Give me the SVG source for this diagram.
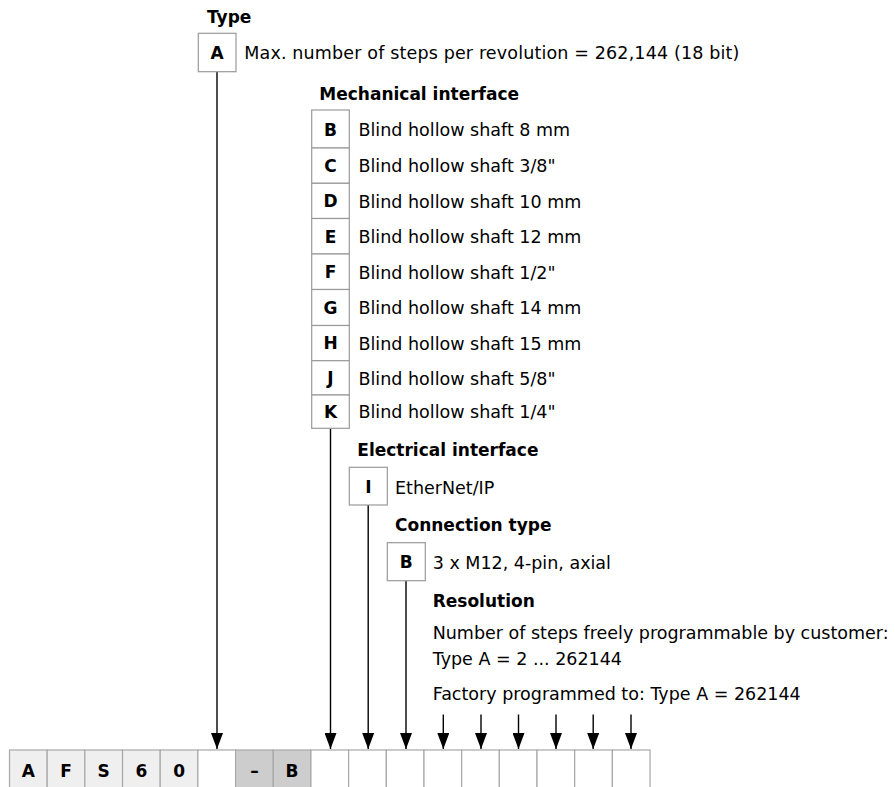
<svg xmlns="http://www.w3.org/2000/svg" width="895" height="787" viewBox="0 0 895 787">
<defs>
<marker id="ah" markerUnits="userSpaceOnUse" markerWidth="16" markerHeight="12" refX="16" refY="6" orient="auto">
<path d="M0,0 L16,6 L0,12 z" fill="#000"/>
</marker>
<style>
.t{font-family:"DejaVu Sans",sans-serif;font-size:17px;font-weight:bold;fill:#000}
.b{font-family:"DejaVu Sans",sans-serif;font-size:17.5px;fill:#000}
.k{font-family:"DejaVu Sans",sans-serif;font-size:17px;font-weight:bold;fill:#000;text-anchor:middle}
.box{fill:#fff;stroke:#9a9a9a;stroke-width:1.2}
.c0{fill:#efefef;stroke:#a8a8a8;stroke-width:1.2}
.c1{fill:#fff;stroke:#a8a8a8;stroke-width:1.2}
.c2{fill:#cdcdcd;stroke:#a8a8a8;stroke-width:1.2}
.ln{stroke:#000;stroke-width:1.4;fill:none}
</style>
</defs>
<rect width="895" height="787" fill="#fff"/>

<g id="connectors">
<line class="ln" x1="217" y1="71.7" x2="217" y2="749" marker-end="url(#ah)"/>
<line class="ln" x1="330.5" y1="428.3" x2="330.5" y2="749" marker-end="url(#ah)"/>
<line class="ln" x1="368.2" y1="505" x2="368.2" y2="749" marker-end="url(#ah)"/>
<line class="ln" x1="406" y1="580.7" x2="406" y2="749" marker-end="url(#ah)"/>
<line class="ln" x1="443.3" y1="714.5" x2="443.3" y2="749" marker-end="url(#ah)"/>
<line class="ln" x1="481" y1="714.5" x2="481" y2="749" marker-end="url(#ah)"/>
<line class="ln" x1="518.5" y1="714.5" x2="518.5" y2="749" marker-end="url(#ah)"/>
<line class="ln" x1="556" y1="714.5" x2="556" y2="749" marker-end="url(#ah)"/>
<line class="ln" x1="593.2" y1="714.5" x2="593.2" y2="749" marker-end="url(#ah)"/>
<line class="ln" x1="631" y1="714.5" x2="631" y2="749" marker-end="url(#ah)"/>
</g>

<g id="type">
<text class="t" x="207" y="23.3">Type</text>
<rect class="box" x="198.3" y="33.3" width="37.7" height="38.4"/>
<text class="k" x="217.1" y="58.8">A</text>
<text class="b" x="244.3" y="59" textLength="495" lengthAdjust="spacing">Max. number of steps per revolution = 262,144 (18 bit)</text>
</g>

<g id="mechanical">
<text class="t" x="319.3" y="100">Mechanical interface</text>
<rect class="box" x="311.7" y="110" width="37.6" height="38"/>
<text class="k" x="330.5" y="135.5">B</text>
<text class="b" x="358.5" y="136">Blind hollow shaft 8 mm</text>
<rect class="box" x="311.7" y="148" width="37.6" height="35.3"/>
<text class="k" x="330.5" y="171.5">C</text>
<text class="b" x="358.5" y="172">Blind hollow shaft 3/8"</text>
<rect class="box" x="311.7" y="183.3" width="37.6" height="35.2"/>
<text class="k" x="330.5" y="207">D</text>
<text class="b" x="358.5" y="207.5">Blind hollow shaft 10 mm</text>
<rect class="box" x="311.7" y="218.5" width="37.6" height="35.5"/>
<text class="k" x="330.5" y="242.5">E</text>
<text class="b" x="358.5" y="243">Blind hollow shaft 12 mm</text>
<rect class="box" x="311.7" y="254" width="37.6" height="35.5"/>
<text class="k" x="330.5" y="278">F</text>
<text class="b" x="358.5" y="278.5">Blind hollow shaft 1/2"</text>
<rect class="box" x="311.7" y="289.5" width="37.6" height="36"/>
<text class="k" x="330.5" y="313.8">G</text>
<text class="b" x="358.5" y="314.3">Blind hollow shaft 14 mm</text>
<rect class="box" x="311.7" y="325.5" width="37.6" height="35.2"/>
<text class="k" x="330.5" y="349.4">H</text>
<text class="b" x="358.5" y="349.9">Blind hollow shaft 15 mm</text>
<rect class="box" x="311.7" y="360.7" width="37.6" height="34.3"/>
<text class="k" x="330.5" y="384.2">J</text>
<text class="b" x="358.5" y="384.7">Blind hollow shaft 5/8"</text>
<rect class="box" x="311.7" y="395" width="37.6" height="33.3"/>
<text class="k" x="330.5" y="417.8">K</text>
<text class="b" x="358.5" y="418.3">Blind hollow shaft 1/4"</text>
</g>

<g id="electrical">
<text class="t" x="357.3" y="456">Electrical interface</text>
<rect class="box" x="349.3" y="467.3" width="38" height="37.7"/>
<text class="k" x="368.3" y="492.6">I</text>
<text class="b" x="395" y="494">EtherNet/IP</text>
</g>

<g id="connection">
<text class="t" x="395" y="531">Connection type</text>
<rect class="box" x="387.3" y="542.7" width="38" height="38"/>
<text class="k" x="406.3" y="568">B</text>
<text class="b" x="432.7" y="568.5">3 x M12, 4-pin, axial</text>
</g>

<g id="resolution">
<text class="t" x="432.7" y="607">Resolution</text>
<text class="b" x="432.7" y="639">Number of steps freely programmable by customer:</text>
<text class="b" x="432.7" y="665">Type A = 2 ... 262144</text>
<text class="b" x="432.7" y="700">Factory programmed to: Type A = 262144</text>
</g>

<g id="code">
<rect class="c0" x="9.5" y="750" width="37.68" height="50"/>
<rect class="c0" x="47.18" y="750" width="37.68" height="50"/>
<rect class="c0" x="84.86" y="750" width="37.68" height="50"/>
<rect class="c0" x="122.54" y="750" width="37.68" height="50"/>
<rect class="c0" x="160.22" y="750" width="37.68" height="50"/>
<rect class="c1" x="197.9" y="750" width="37.68" height="50"/>
<rect class="c2" x="235.58" y="750" width="37.68" height="50"/>
<rect class="c2" x="273.26" y="750" width="37.68" height="50"/>
<rect class="c1" x="310.94" y="750" width="37.68" height="50"/>
<rect class="c1" x="348.62" y="750" width="37.68" height="50"/>
<rect class="c1" x="386.3" y="750" width="37.68" height="50"/>
<rect class="c1" x="423.98" y="750" width="37.68" height="50"/>
<rect class="c1" x="461.66" y="750" width="37.68" height="50"/>
<rect class="c1" x="499.34" y="750" width="37.68" height="50"/>
<rect class="c1" x="537.02" y="750" width="37.68" height="50"/>
<rect class="c1" x="574.7" y="750" width="37.68" height="50"/>
<rect class="c1" x="612.38" y="750" width="37.68" height="50"/>
<text class="k" x="28.3" y="776.7">A</text>
<text class="k" x="66" y="776.7">F</text>
<text class="k" x="103.7" y="776.7">S</text>
<text class="k" x="141.4" y="776.7">6</text>
<text class="k" x="179.1" y="776.7">0</text>
<text class="k" x="254.4" y="776.7">–</text>
<text class="k" x="292.1" y="776.7">B</text>
</g>
</svg>
